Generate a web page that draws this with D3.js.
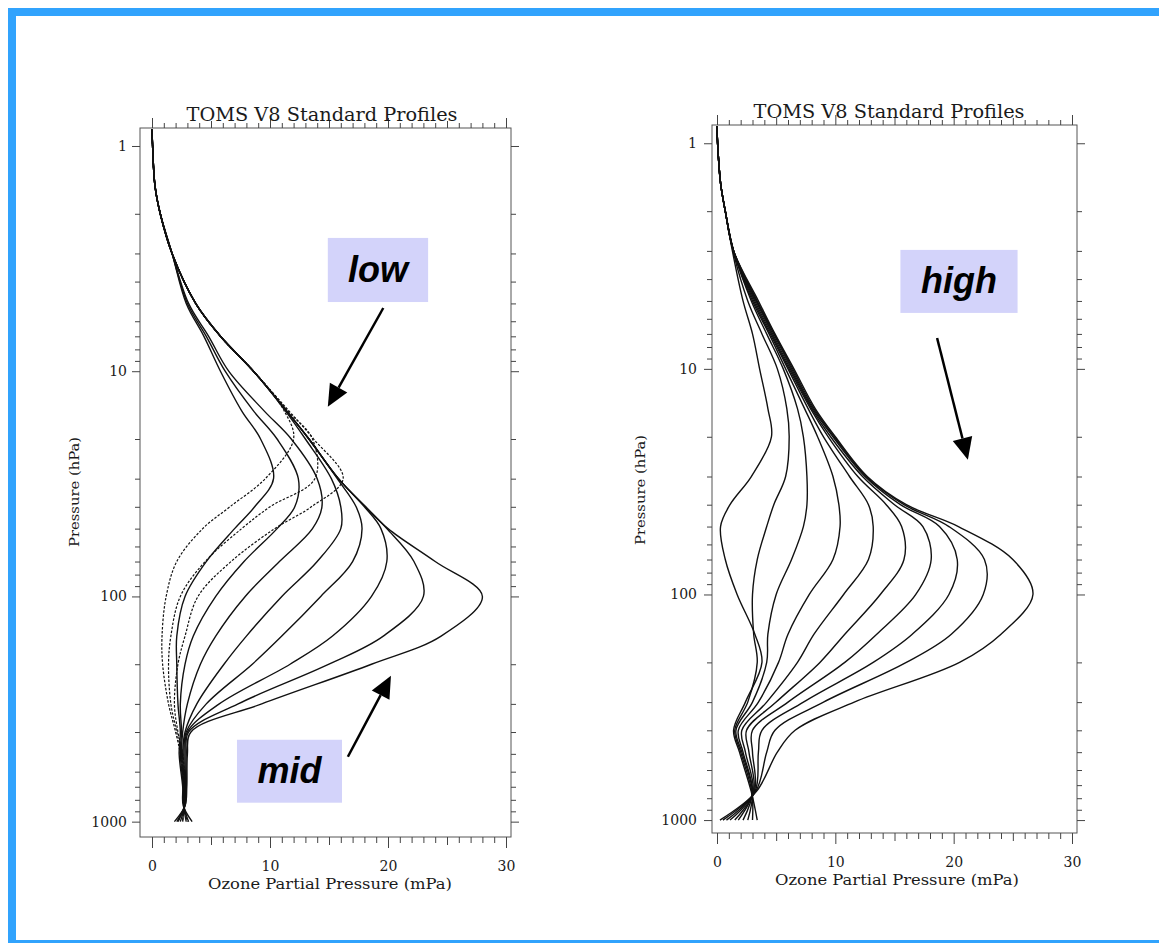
<!DOCTYPE html>
<html>
<head>
<meta charset="utf-8">
<script src="https://cdn.jsdelivr.net/npm/d3@7"></script>
<style>
  body { margin: 0; background: #fff; }
  svg { display: block; }
</style>
</head>
<body>
<svg id="chart" width="1159" height="943"></svg>
<script>
// pressure levels (hPa) the profiles are read at
var pressureLeft = [0.84, 1, 1.5, 2, 3, 5, 7, 10, 15, 20, 30, 40, 50, 70, 100, 150, 200, 300, 400, 500, 700, 850, 1000];
var pressureRight = [0.84, 1, 1.5, 2, 3, 5, 7, 10, 15, 20, 30, 40, 50, 70, 100, 150, 200, 300, 400, 500, 750, 1000];

// mid latitude profiles (solid), ozone partial pressure in mPa
var midLat = [
  [0, 0.05, 0.25, 0.7, 1.7, 2.9, 4.4, 5.8, 7.6, 9.2, 10.3, 8.7, 7.0, 4.6, 2.8, 2.1, 2.1, 2.2, 2.4, 2.3, 2.6, 2.65, 3.4],
  [0, 0.05, 0.25, 0.7, 1.7, 3.0, 4.6, 6.2, 8.6, 10.6, 12.4, 12.1, 10.6, 7.8, 5.4, 3.5, 2.8, 2.4, 2.5, 2.4, 2.65, 2.7, 3.1],
  [0, 0.05, 0.25, 0.7, 1.7, 3.1, 4.8, 6.5, 9.5, 11.8, 14.0, 14.4, 13.6, 10.8, 7.9, 5.4, 4.1, 3.0, 2.6, 2.5, 2.7, 2.7, 2.9],
  [0, 0.05, 0.25, 0.7, 1.7, 3.7, 5.8, 8.6, 11.3, 13.0, 15.2, 16.0, 16.0, 14.0, 11.0, 8.0, 6.1, 3.8, 2.8, 2.6, 2.75, 2.7, 2.6],
  [0, 0.05, 0.25, 0.7, 1.7, 3.7, 5.8, 8.6, 11.4, 13.3, 15.7, 17.3, 17.8, 17.0, 14.3, 11.0, 8.5, 4.6, 2.9, 2.7, 2.8, 2.75, 2.4],
  [0, 0.05, 0.25, 0.7, 1.7, 3.7, 5.8, 8.6, 11.4, 13.3, 15.8, 18.0, 19.4, 19.9, 18.6, 15.3, 11.7, 5.7, 3.0, 2.8, 2.85, 2.75, 2.2],
  [0, 0.05, 0.25, 0.7, 1.7, 3.7, 5.8, 8.6, 11.4, 13.3, 15.8, 18.1, 19.9, 22.2, 23.0, 19.6, 15.0, 7.3, 3.1, 2.9, 2.9, 2.8, 2.1],
  [0, 0.05, 0.25, 0.7, 1.7, 3.7, 5.8, 8.6, 11.4, 13.3, 15.8, 18.1, 20.0, 24.0, 28.0, 24.5, 18.6, 9.3, 3.3, 3.0, 2.95, 2.8, 1.9]
];

// low latitude profiles (dashed)
var lowLat = [
  [0, 0.05, 0.25, 0.7, 1.7, 3.7, 5.8, 8.6, 11.2, 12.0, 9.6, 6.6, 4.3, 2.1, 1.2, 0.85, 0.9, 1.4, 2.0, 2.4, 2.7, 2.7, 3.0],
  [0, 0.05, 0.25, 0.7, 1.7, 3.7, 5.8, 8.6, 11.5, 13.6, 13.8, 10.0, 7.6, 4.5, 2.4, 1.6, 1.4, 1.6, 2.1, 2.5, 2.75, 2.7, 2.6],
  [0, 0.05, 0.25, 0.7, 1.7, 3.7, 5.8, 8.6, 11.6, 13.7, 16.2, 13.5, 10.4, 6.7, 3.9, 2.8, 2.2, 1.9, 2.2, 2.6, 2.8, 2.75, 2.2]
];

// high latitude profiles
var highLat = [
  [0, 0.05, 0.3, 0.7, 1.3, 2.2, 3.0, 3.6, 4.3, 4.6, 2.9, 1.1, 0.3, 0.7, 1.7, 3.2, 3.8, 2.4, 1.4, 1.9, 2.9, 3.4],
  [0, 0.05, 0.3, 0.7, 1.35, 2.6, 3.8, 5.1, 5.9, 6.1, 5.8, 4.8, 4.2, 3.4, 3.0, 3.1, 3.4, 2.6, 1.5, 2.0, 2.95, 3.0],
  [0, 0.05, 0.3, 0.7, 1.4, 2.9, 4.2, 5.6, 6.8, 7.3, 7.6, 7.6, 7.3, 6.3, 5.0, 4.3, 4.2, 3.0, 1.6, 2.1, 3.0, 2.6],
  [0, 0.05, 0.3, 0.7, 1.4, 3.0, 4.4, 5.8, 7.4, 8.5, 9.8, 10.3, 10.4, 9.8, 7.8, 6.0, 5.2, 3.5, 1.8, 2.2, 3.0, 2.2],
  [0, 0.05, 0.3, 0.7, 1.4, 3.1, 4.5, 6.0, 7.7, 9.0, 11.2, 12.8, 13.2, 12.8, 10.7, 8.2, 6.8, 4.2, 2.1, 2.4, 3.05, 1.8],
  [0, 0.05, 0.3, 0.7, 1.4, 3.2, 4.6, 6.1, 7.9, 9.4, 11.9, 14.3, 15.6, 15.8, 13.8, 10.8, 8.7, 5.0, 2.5, 2.7, 3.1, 1.5],
  [0, 0.05, 0.3, 0.7, 1.4, 3.3, 4.7, 6.2, 8.0, 9.6, 12.3, 15.0, 17.4, 18.1, 16.8, 13.5, 10.8, 6.0, 3.0, 3.0, 3.15, 1.1],
  [0, 0.05, 0.3, 0.7, 1.4, 3.35, 4.8, 6.3, 8.1, 9.8, 12.5, 15.5, 18.8, 20.3, 19.6, 16.5, 13.2, 7.3, 3.8, 3.5, 3.2, 0.8],
  [0, 0.05, 0.3, 0.7, 1.4, 3.4, 4.85, 6.4, 8.2, 9.9, 12.6, 15.8, 19.6, 22.6, 22.5, 19.8, 16.0, 9.0, 4.9, 4.2, 3.25, 0.5],
  [0, 0.05, 0.3, 0.7, 1.4, 3.5, 4.9, 6.5, 8.3, 10.0, 12.7, 16.0, 20.4, 25.0, 26.7, 24.0, 20.5, 11.6, 6.6, 5.1, 3.3, 0.25]
];

// axis ticks
var yMajorTicks = [1, 10, 100, 1000];
var yMinorTicks = [2, 3, 4, 5, 6, 7, 8, 9, 20, 30, 40, 50, 60, 70, 80, 90, 200, 300, 400, 500, 600, 700, 800, 900];
var xMajorTicks = [0, 10, 20, 30];
var xMidTicks = [5, 15, 25];
var xMinorTicks = d3.range(0, 31).filter(function (d) { return d % 5 !== 0; });

var chartTitle = "TOMS V8 Standard Profiles";
var xTitle = "Ozone Partial Pressure (mPa)";
var yTitle = "Pressure (hPa)";

// annotation boxes and arrows, in data units (mPa, hPa)
var notesLeft = [
  { text: "low", box: [14.9, 2.56, 23.4, 4.93], from: [19.6, 5.24], to: [14.9, 14.4] },
  { text: "mid", box: [7.2, 433, 16.1, 824], from: [16.6, 515], to: [20.25, 225] }
];
var notesRight = [
  { text: "high", box: [15.5, 2.97, 25.4, 5.65], from: [18.6, 7.3], to: [21.2, 25.3] }
];

var svg = d3.select("#chart");

// blue slide frame
svg.append("rect").attr("x", 0).attr("y", 0).attr("width", 1159).attr("height", 943).attr("fill", "#fff");
svg.append("rect").attr("x", 8).attr("y", 8).attr("width", 1151).attr("height", 8).attr("fill", "#31a3fd");
svg.append("rect").attr("x", 8).attr("y", 8).attr("width", 8).attr("height", 935).attr("fill", "#31a3fd");
svg.append("rect").attr("x", 8).attr("y", 940).attr("width", 1151).attr("height", 3).attr("fill", "#31a3fd");

var serif = "'DejaVu Serif', serif";

function drawPanel(cfg) {
  var x = cfg.x, y = cfg.y, b = cfg.box;
  var g = svg.append("g");

  g.append("rect")
    .attr("x", b[0]).attr("y", b[1])
    .attr("width", b[2] - b[0]).attr("height", b[3] - b[1])
    .attr("fill", "none").attr("stroke", "#555").attr("stroke-width", 1);

  var line = d3.line().curve(d3.curveCatmullRom.alpha(0.5));

  cfg.series.forEach(function (s) {
    g.append("g").selectAll("path")
      .data(s.data)
      .join("path")
      .attr("d", function (vals) {
        return line(vals.map(function (v, i) { return [x(v), y(s.pressure[i])]; }));
      })
      .attr("fill", "none")
      .attr("stroke", "#111")
      .attr("stroke-width", s.dashed ? 1.2 : 1.4)
      .attr("stroke-dasharray", s.dashed ? "2.5,1.6" : null);
  });

  // axes: minor and major ticks on all four sides
  function axisG(axis, tx, ty) {
    var a = g.append("g").attr("transform", "translate(" + tx + "," + ty + ")").call(axis);
    a.select(".domain").remove();
    a.selectAll("line").attr("stroke", "#444");
    a.attr("font-family", serif).attr("font-size", 14);
    a.selectAll("text").attr("fill", "#1a1a1a");
    return a;
  }
  axisG(d3.axisLeft(y).tickValues(yMinorTicks).tickSize(5).tickFormat(""), b[0], 0);
  axisG(d3.axisLeft(y).tickValues(yMajorTicks).tickSize(8).tickPadding(cfg.yPad).tickFormat(d3.format("d")), b[0], 0);
  axisG(d3.axisRight(y).tickValues(yMinorTicks).tickSize(5).tickFormat(""), b[2], 0);
  axisG(d3.axisRight(y).tickValues(yMajorTicks).tickSize(8).tickFormat(""), b[2], 0);

  axisG(d3.axisTop(x).tickValues(xMinorTicks).tickSize(5).tickFormat(""), 0, b[1]);
  axisG(d3.axisTop(x).tickValues(xMidTicks).tickSize(7).tickFormat(""), 0, b[1]);
  axisG(d3.axisTop(x).tickValues(xMajorTicks).tickSize(10).tickFormat(""), 0, b[1]);
  axisG(d3.axisBottom(x).tickValues(xMinorTicks).tickSize(6).tickFormat(""), 0, b[3]);
  axisG(d3.axisBottom(x).tickValues(xMidTicks).tickSize(8).tickFormat(""), 0, b[3]);
  axisG(d3.axisBottom(x).tickValues(xMajorTicks).tickSize(11).tickPadding(13).tickFormat(d3.format("d")), 0, b[3]);

  // titles
  g.append("text")
    .attr("x", cfg.titleX).attr("y", b[1] - 7)
    .attr("text-anchor", "middle")
    .attr("font-family", serif).attr("font-size", 18).attr("fill", "#1a1a1a")
    .attr("textLength", 271).attr("lengthAdjust", "spacingAndGlyphs")
    .text(chartTitle);

  g.append("text")
    .attr("x", cfg.xTitleX).attr("y", b[3] + 52)
    .attr("text-anchor", "middle")
    .attr("font-family", serif).attr("font-size", 14).attr("fill", "#1a1a1a")
    .attr("textLength", 244).attr("lengthAdjust", "spacingAndGlyphs")
    .text(xTitle);

  g.append("text")
    .attr("transform", "translate(" + cfg.yTitleX + "," + cfg.yTitleY + ") rotate(-90)")
    .attr("text-anchor", "middle")
    .attr("font-family", serif).attr("font-size", 13).attr("fill", "#1a1a1a")
    .attr("textLength", 110).attr("lengthAdjust", "spacingAndGlyphs")
    .text(yTitle);

  // annotation boxes with arrows
  cfg.notes.forEach(function (n) {
    var bx0 = x(n.box[0]), bx1 = x(n.box[2]), by0 = y(n.box[1]), by1 = y(n.box[3]);
    g.append("rect")
      .attr("x", bx0).attr("y", by0)
      .attr("width", bx1 - bx0).attr("height", by1 - by0)
      .attr("fill", "#d3d3fa");
    g.append("text")
      .attr("x", (bx0 + bx1) / 2).attr("y", (by0 + by1) / 2 + 12)
      .attr("text-anchor", "middle")
      .attr("font-family", "Arial, 'Liberation Sans', sans-serif")
      .attr("font-weight", "bold").attr("font-style", "italic")
      .attr("font-size", 36).attr("fill", "#000")
      .text(n.text);

    var x0 = x(n.from[0]), y0 = y(n.from[1]), x1 = x(n.to[0]), y1 = y(n.to[1]);
    var ang = Math.atan2(y1 - y0, x1 - x0);
    var headLen = 22, headW = 10;
    var bxh = x1 - headLen * Math.cos(ang), byh = y1 - headLen * Math.sin(ang);
    g.append("line")
      .attr("x1", x0).attr("y1", y0).attr("x2", bxh).attr("y2", byh)
      .attr("stroke", "#000").attr("stroke-width", 2.5);
    var pts = [
      [x1, y1],
      [bxh + headW * Math.sin(ang), byh - headW * Math.cos(ang)],
      [bxh - headW * Math.sin(ang), byh + headW * Math.cos(ang)]
    ];
    g.append("path").attr("d", "M" + pts.join("L") + "Z").attr("fill", "#000");
  });
}

drawPanel({
  x: d3.scaleLinear().domain([0, 30]).range([152, 506]),
  y: d3.scaleLog().domain([0.832, 1170]).range([128, 837]),
  box: [140, 128, 511, 837],
  yPad: 5,
  titleX: 322, xTitleX: 330, yTitleX: 79, yTitleY: 492,
  series: [
    { data: lowLat, pressure: pressureLeft, dashed: true },
    { data: midLat, pressure: pressureLeft, dashed: false }
  ],
  notes: notesLeft
});

drawPanel({
  x: d3.scaleLinear().domain([0, 30]).range([717, 1072]),
  y: d3.scaleLog().domain([0.83, 1141]).range([125, 833]),
  box: [712, 125, 1077, 833],
  yPad: 7,
  titleX: 889, xTitleX: 897, yTitleX: 645, yTitleY: 490,
  series: [
    { data: highLat, pressure: pressureRight, dashed: false }
  ],
  notes: notesRight
});
</script>
</body>
</html>
